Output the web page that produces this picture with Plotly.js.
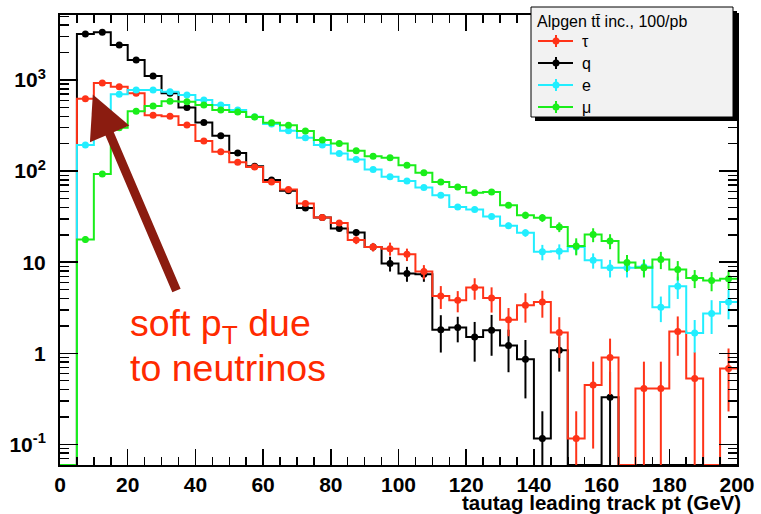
<!DOCTYPE html>
<html><head><meta charset="utf-8">
<script src="https://cdn.plot.ly/plotly-3.0.1.min.js"></script>
<style>html,body{margin:0;padding:0;background:#fff}#chart{width:761px;height:514px}</style>
</head><body><div id="chart"></div>
<script>
// histogram bins (GeV)
const binEdges = [0,5,10,15,20,25,30,35,40,45,50,55,60,65,70,75,80,85,90,95,100,105,110,115,120,125,130,135,140,145,150,155,160,165,170,175,180,185,190,195,200];
const binCenters = [2.5,7.5,12.5,17.5,22.5,27.5,32.5,37.5,42.5,47.5,52.5,57.5,62.5,67.5,72.5,77.5,82.5,87.5,92.5,97.5,102.5,107.5,112.5,117.5,122.5,127.5,132.5,137.5,142.5,147.5,152.5,157.5,162.5,167.5,172.5,177.5,182.5,187.5,192.5,197.5];

// tau
const tauVals = [0,625,930,845,715,410,400,320,214,163,125,111,76,63,44,31,27,17.5,14.7,14.1,12.2,7.9,4.27,3.82,5.27,4.05,2.34,3.37,3.66,1.69,0.116,0.45,0.90,0,0.41,0.41,1.74,0.53,0,0.68];
const tauErrs = [0,8,10,10,9,7,7,6,5,4.5,4,3.5,3,2.8,2.5,2.2,2,1.7,1.6,2.3,1.9,1.4,1.2,1.0,1.4,1.25,0.8,1.2,1.2,0.8,0.115,0.36,0.55,0,0.4,0.4,0.8,0.5,0,0.45];
// q
const qVals = [0,3200,3340,2430,1660,1107,715,500,342,244,158,113,80,61,39.5,31,23.5,21.2,14.7,9.7,7.5,7.4,1.82,1.92,1.51,1.79,1.22,0.86,0.116,1.08,0,0,0.33,0,0,0,0,0,0,0];
const qErrs = [0,20,20,17,14,11,9,7,6,5,4,3.5,3,2.6,2.2,2,1.7,1.6,1.4,1.8,1.4,1.3,0.8,0.6,0.7,0.85,0.6,0.54,0.115,0.45,0,0,0.3,0,0,0,0,0,0,0];
// e
const eVals = [0,193,460,700,777,777,745,684,603,531,468,395,330,277,233,193,156,134,104,86.5,78,66,54.5,40.5,38,31.8,25.2,21,13,13.2,14.7,10.5,8.7,8.7,8.9,3.2,5.45,1.67,2.73,3.66];
const eErrs = [0,5,7,9,10,10,9,9,8,8,7,6,6,5,5,4.5,4,3.8,3.4,3.2,3,2.8,2.6,2.5,2.4,2.2,2,2,2.5,2.5,2.5,2,1.9,1.9,1.9,1.0,1.5,0.65,1.1,1.3];
// mu
const muVals = [0,17.8,93,300,455,520,585,578,531,468,445,392,340,318,275,219,201,167,146,140,116,96,76,67,58,59,42.3,32.8,30.7,24.4,15.1,20.1,17.1,9.9,8.7,10.7,8.3,6.7,6.3,6.6];
const muErrs = [0,1.5,3.5,6,8,8,9,9,8,8,7,7,6,6,5,5,4.5,4,4,4,3.5,3.4,3.2,3,3,3,3,3,3,3,3.2,3.5,3.2,2.1,1.9,2.3,2,1.5,1.5,1.5];

const seriesNames = ['τ','q','e','μ'];
const seriesColors = ['#ff3318','#000000','#22eeff','#1aee1a'];

const Y_LO = -1.226, Y_HI = 3.714;
const FLOOR = Math.pow(10, Y_LO);

function stepTrace(vals, color){
  const y = vals.map(v => v > 0 ? v : FLOOR);
  y.push(y[y.length-1]);
  return {x: binEdges, y: y, mode:'lines', line:{shape:'hv', color: color, width:2},
          hoverinfo:'skip', showlegend:false};
}
function pointTrace(vals, errs, color){
  return {x: binCenters, y: vals.map(v => v > 0 ? v : null), mode:'markers',
          marker:{color: color, size:7, symbol:'circle'},
          error_y:{type:'data', array: errs, visible:true, color: color, thickness:2, width:0},
          showlegend:false, cliponaxis:true};
}

const data = [
  stepTrace(qVals, seriesColors[1]), pointTrace(qVals, qErrs, seriesColors[1]),
  stepTrace(tauVals, seriesColors[0]), pointTrace(tauVals, tauErrs, seriesColors[0]),
  stepTrace(eVals, seriesColors[2]), pointTrace(eVals, eErrs, seriesColors[2]),
  stepTrace(muVals, seriesColors[3]), pointTrace(muVals, muErrs, seriesColors[3])
];

// pixel -> paper helpers for the legend box (plot area 60..737 x 15..465)
const L = 60, R = 737, T = 15, B = 465;
const px = X => (X - L) / (R - L);
const py = Y => (B - Y) / (B - T);

const FONT = 'Liberation Sans, Arial, Helvetica, sans-serif';

const shapes = [
  {type:'rect', xref:'paper', yref:'paper', x0:px(535), x1:px(737), y0:py(11), y1:py(121), fillcolor:'#000', line:{width:0}},
  {type:'rect', xref:'paper', yref:'paper', x0:px(531), x1:px(733), y0:py(7), y1:py(117), fillcolor:'#f2f2f2', line:{color:'#000', width:1}}
];
const annotations = [
  {xref:'paper', yref:'paper', x:px(535), y:py(22), xanchor:'left', yanchor:'middle', showarrow:false,
   text:'Alpgen tt\u0304 inc., 100/pb', font:{family:FONT, size:16, color:'#000'}}
];
const legOrder = [0,1,2,3];
legOrder.forEach((k, i) => {
  const Y = 41 + 22 * i;
  const c = seriesColors[k];
  shapes.push({type:'line', xref:'paper', yref:'paper', x0:px(538), x1:px(573), y0:py(Y), y1:py(Y), line:{color:c, width:2}});
  shapes.push({type:'line', xref:'paper', yref:'paper', x0:px(556), x1:px(556), y0:py(Y-6), y1:py(Y+6), line:{color:c, width:2}});
  shapes.push({type:'circle', xref:'paper', yref:'paper', xsizemode:'pixel', ysizemode:'pixel',
               xanchor:px(556), yanchor:py(Y), x0:-3.5, x1:3.5, y0:-3.5, y1:3.5, fillcolor:c, line:{width:0}});
  annotations.push({xref:'paper', yref:'paper', x:px(580), y:py(Y), xanchor:'left', yanchor:'middle', showarrow:false,
                    text:seriesNames[k], font:{family:FONT, size:16, color:'#000'}});
});

// x-axis title at right end
annotations.push({xref:'paper', yref:'paper', x:px(743), y:py(502), xanchor:'right', yanchor:'middle', showarrow:false,
  text:'tautag leading track pt (GeV)', font:{family:FONT, size:20.5, color:'#000', weight:'bold'}});

// comment text
annotations.push({xref:'paper', yref:'paper', x:px(128), y:py(326), xanchor:'left', yanchor:'middle', showarrow:false,
  text:'soft p<sub>T</sub> due', font:{family:FONT, size:37.5, color:'#ff2a00'}});
annotations.push({xref:'paper', yref:'paper', x:px(128), y:py(368), xanchor:'left', yanchor:'middle', showarrow:false,
  text:'to neutrinos', font:{family:FONT, size:37.5, color:'#ff2a00'}});
// arrow (data coords; log axis -> log10 units)
annotations.push({x:9.7, y:2.84, xref:'x', yref:'y', ax:34.6, ay:0.673, axref:'x', ayref:'y',
  text:'', showarrow:true, arrowhead:2, arrowsize:0.95, arrowwidth:9, arrowcolor:'#8b1c10', standoff:0});

const minorY = [];
[0.01,0.1,1,10,100,1000].forEach(d => { for (let m = 2; m <= 9; m++) minorY.push(m*d); });

const layout = {
  width:761, height:514,
  margin:{l:L, r:761-R, t:T, b:514-B, pad:0},
  paper_bgcolor:'#fff', plot_bgcolor:'#fff',
  showlegend:false,
  font:{family:FONT, color:'#000'},
  xaxis:{range:[0,200], showline:true, linecolor:'#000', linewidth:2, mirror:'ticks',
         ticks:'inside', ticklen:16, tickwidth:1.5, tickcolor:'#000', dtick:20, tick0:0,
         minor:{ticks:'inside', dtick:5, ticklen:8, tickwidth:1.5, tickcolor:'#000'},
         showgrid:false, zeroline:false,
         tickfont:{family:FONT, size:21, color:'#000', weight:'bold'}},
  yaxis:{type:'log', range:[Y_LO, Y_HI], showline:true, linecolor:'#000', linewidth:2, mirror:'ticks',
         ticks:'inside', ticklen:18, tickwidth:1.5, tickcolor:'#000',
         tickmode:'array', tickvals:[0.1,1,10,100,1000], ticktext:['10<sup>-1</sup>','1','10','10<sup>2</sup>','10<sup>3</sup>'],
         minor:{ticks:'inside', tickmode:'array', tickvals:minorY, ticklen:9, tickwidth:1.5, tickcolor:'#000'},
         showgrid:false, zeroline:false, ticklabelstandoff:8,
         tickfont:{family:FONT, size:21, color:'#000', weight:'bold'}},
  shapes: shapes,
  annotations: annotations
};

Plotly.newPlot('chart', data, layout, {staticPlot:true, displayModeBar:false});
</script></body></html>
